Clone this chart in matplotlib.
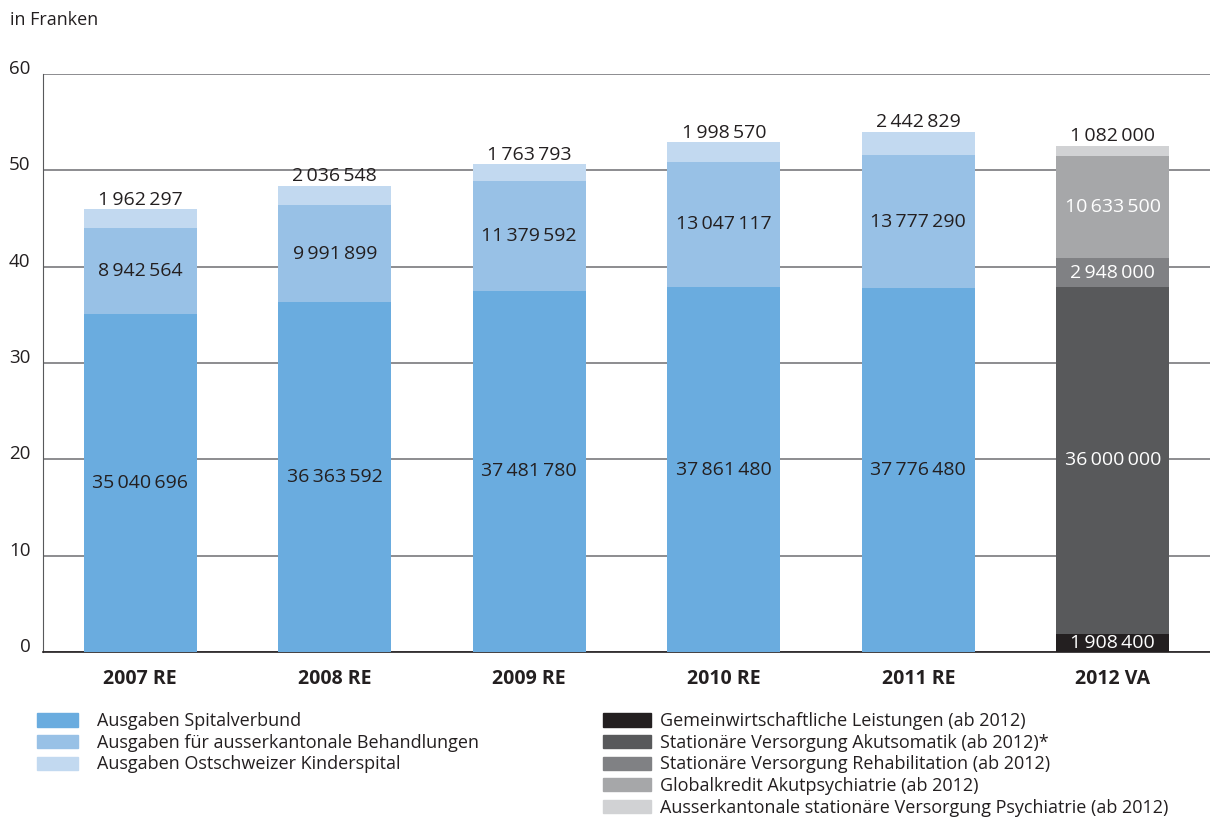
import numpy as np
import matplotlib.pyplot as plt
from matplotlib.patches import Patch

plt.rcParams['font.family'] = ['Open Sans', 'DejaVu Sans']

years = ['2007 RE', '2008 RE', '2009 RE', '2010 RE', '2011 RE', '2012 VA']

spital = [35040696, 36363592, 37481780, 37861480, 37776480, 0]
ausserk = [8942564, 9991899, 11379592, 13047117, 13777290, 0]
kinder = [1962297, 2036548, 1763793, 1998570, 2442829, 0]

gemein = [0, 0, 0, 0, 0, 1908400]
akut = [0, 0, 0, 0, 0, 36000000]
reha = [0, 0, 0, 0, 0, 2948000]
global_kr = [0, 0, 0, 0, 0, 10633500]
psych = [0, 0, 0, 0, 0, 1082000]

labels_left = ['Ausgaben Spitalverbund',
               'Ausgaben für ausserkantonale Behandlungen',
               'Ausgaben Ostschweizer Kinderspital']
labels_right = ['Gemeinwirtschaftliche Leistungen (ab 2012)',
                'Stationäre Versorgung Akutsomatik (ab 2012)*',
                'Stationäre Versorgung Rehabilitation (ab 2012)',
                'Globalkredit Akutpsychiatrie (ab 2012)',
                'Ausserkantonale stationäre Versorgung Psychiatrie (ab 2012)']

blues = ['#6aacdf', '#98c1e6', '#c2d9f0']
greys = ['#231f20', '#58595b', '#808184', '#a6a7a9', '#d1d2d4']
txt = '#231f20'

def fmt(v):
    # thin space as thousands separator
    return '{:,}'.format(v).replace(',', '\u2009')

fig = plt.figure(figsize=(12.1, 8.17), dpi=100)
ax = fig.add_axes([43/1210, 1-652/817, 1167/1210, 578/817])

x = np.arange(len(years))
w = 0.58

series = [(spital, blues[0], 'in'), (ausserk, blues[1], 'in'), (kinder, blues[2], 'top'),
          (gemein, greys[0], 'in'), (akut, greys[1], 'in'), (reha, greys[2], 'in'),
          (global_kr, greys[3], 'in'), (psych, greys[4], 'top')]

bottom = np.zeros(len(years))
for vals, col, pos in series:
    v = np.array(vals) / 1e6
    ax.bar(x, v, w, bottom=bottom, color=col, zorder=3)
    for i in range(len(years)):
        if vals[i] == 0:
            continue
        if pos == 'top':
            ax.text(x[i], bottom[i] + v[i] + 0.05, fmt(vals[i]), ha='center', va='bottom',
                    fontsize=14, color=txt, zorder=4)
        else:
            c = 'white' if col in greys else txt
            ax.text(x[i], bottom[i] + v[i] / 2, fmt(vals[i]), ha='center', va='center',
                    fontsize=14, color=c, zorder=4)
    bottom = bottom + v

ax.set_xlim(-0.5, 5.5)
ax.set_ylim(0, 60)
ax.set_yticks(range(0, 61, 10))
ax.yaxis.grid(True, color='#6d6e71', linewidth=1.1, zorder=0)
ax.set_axisbelow(True)
for s in ['top', 'right']:
    ax.spines[s].set_visible(False)
ax.spines['left'].set_color('#58595b')
ax.spines['bottom'].set_color('#231f20')
ax.spines['bottom'].set_linewidth(1.2)
ax.tick_params(axis='y', length=0, pad=9, labelsize=13.5, labelcolor=txt)
ax.tick_params(axis='x', length=0, pad=12, labelsize=14, labelcolor=txt)
ax.set_xticks(x)
ax.set_xticklabels(years, fontweight='bold')
for t in ax.get_yticklabels():
    t.set_verticalalignment('baseline')

fig.text(10/1210, 1-20/817, 'in Franken', fontsize=13, color=txt, va='center')

h1 = [Patch(color=c) for c in blues]
h2 = [Patch(color=c) for c in greys]
fig.legend(h1, labels_left, loc='upper left', bbox_to_anchor=(30/1210, 1-705/817),
           frameon=False, fontsize=13, handlelength=2.28, handleheight=0.75,
           labelspacing=0.2, handletextpad=1.05, labelcolor=txt, borderaxespad=0)
fig.legend(h2, labels_right, loc='upper left', bbox_to_anchor=(596/1210, 1-705/817),
           frameon=False, fontsize=13, handlelength=2.67, handleheight=0.75,
           labelspacing=0.2, handletextpad=0.5, labelcolor=txt, borderaxespad=0)

fig.savefig('out.png', dpi=100)
